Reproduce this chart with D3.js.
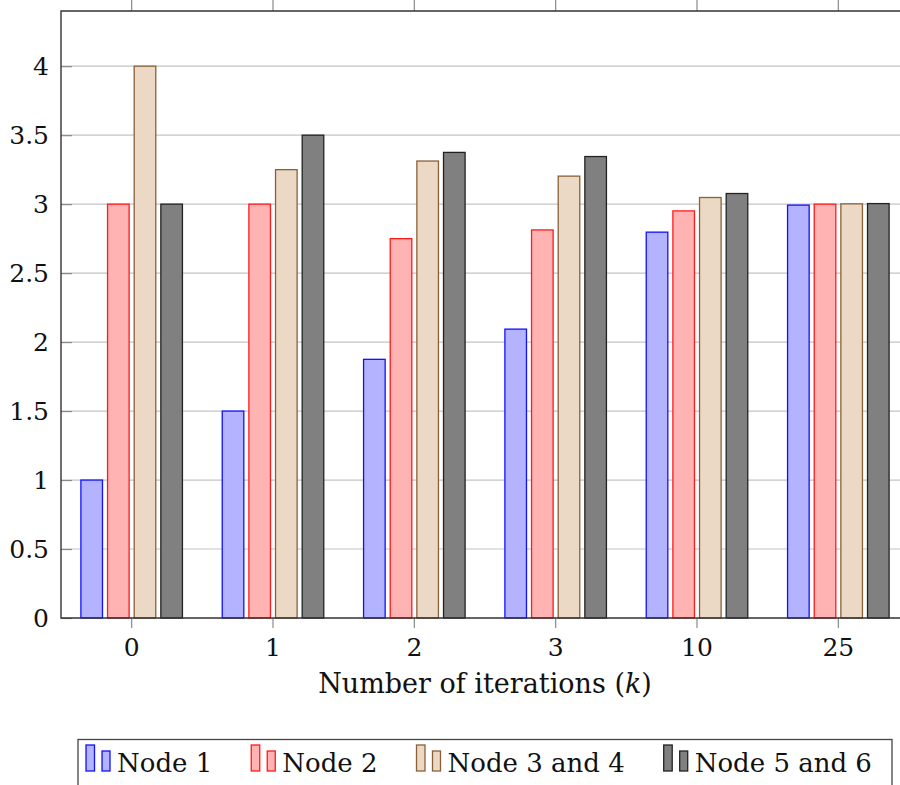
<!DOCTYPE html>
<html>
<head>
<meta charset="utf-8">
<script src="https://cdn.jsdelivr.net/npm/d3@7"></script>
<style>
  body { margin: 0; background: #fff; }
  svg { display: block; font-family: "DejaVu Serif", serif; }
</style>
</head>
<body>
<svg id="chart" width="900" height="785"></svg>
<script>
// data
const iterations = ["0", "1", "2", "3", "10", "25"];
const seriesNames = ["Node 1", "Node 2", "Node 3 and 4", "Node 5 and 6"];
const node1 = [1, 1.5, 1.875, 2.094, 2.797, 2.993];
const node2 = [3, 3, 2.75, 2.813, 2.951, 3];
const node34 = [4, 3.25, 3.3125, 3.203, 3.048, 3.002];
const node56 = [3, 3.5, 3.375, 3.345, 3.077, 3.004];
const yTicks = [0, 0.5, 1, 1.5, 2, 2.5, 3, 3.5, 4];

const values = [node1, node2, node34, node56];
const fills = ["#b3b3ff", "#ffb3b3", "#ebd9c5", "#808080"];
const strokes = ["#1010ff", "#ff1a1a", "#8a6039", "#222222"];

const plotLeft = 61, plotRight = 909, plotTop = 11, plotBottom = 618;

const svg = d3.select("#chart");

const x = d3.scaleBand()
  .domain(iterations)
  .range([plotLeft, plotRight]);

const xInner = d3.scaleBand()
  .domain(seriesNames)
  .range([-53.3, 53.3])
  .paddingInner(0.19)
  .paddingOuter(0.095);

const y = d3.scaleLinear()
  .domain([0, 4.4])
  .range([plotBottom, plotTop]);

// grid
svg.append("g")
  .selectAll("line")
  .data(yTicks.filter(d => d > 0))
  .enter()
  .append("line")
  .attr("x1", plotLeft)
  .attr("x2", plotRight)
  .attr("y1", d => y(d))
  .attr("y2", d => y(d))
  .attr("stroke", "#c4c4c4")
  .attr("stroke-width", 1.2);

// bars
const groups = svg.append("g")
  .selectAll("g")
  .data(seriesNames)
  .enter()
  .append("g");

groups.selectAll("rect")
  .data((name, i) => values[i].map((v, j) => ({ name, i, cat: iterations[j], v })))
  .enter()
  .append("rect")
  .attr("x", d => x(d.cat) + x.bandwidth() / 2 + xInner(d.name))
  .attr("y", d => y(d.v))
  .attr("width", xInner.bandwidth())
  .attr("height", d => y(0) - y(d.v))
  .attr("fill", d => fills[d.i])
  .attr("stroke", d => strokes[d.i])
  .attr("stroke-width", 1.3);

// y axis
const yAxis = d3.axisLeft(y)
  .tickValues(yTicks)
  .tickSize(-11)
  .tickPadding(12)
  .tickFormat(d => String(d));
const gy = svg.append("g")
  .attr("transform", `translate(${plotLeft},0)`)
  .call(yAxis);
gy.select(".domain").remove();
gy.selectAll(".tick line").attr("stroke", "#8a8a8a").attr("stroke-width", 1.2);
gy.selectAll(".tick text")
  .attr("font-size", 25)
  .attr("font-family", "DejaVu Serif, serif")
  .attr("fill", "#111");

// x axis (bottom and top ticks)
const xAxis = d3.axisBottom(x)
  .tickSize(10)
  .tickPadding(10);
const gx = svg.append("g")
  .attr("transform", `translate(0,${plotBottom})`)
  .call(xAxis);
gx.select(".domain").remove();
gx.selectAll(".tick line").attr("stroke", "#8a8a8a").attr("stroke-width", 1.2);
gx.selectAll(".tick text")
  .attr("font-size", 25)
  .attr("font-family", "DejaVu Serif, serif")
  .attr("fill", "#111");

const gxTop = svg.append("g")
  .attr("transform", `translate(0,${plotTop})`)
  .call(d3.axisTop(x).tickSize(11).tickFormat(""));
gxTop.select(".domain").remove();
gxTop.selectAll(".tick line").attr("stroke", "#8a8a8a").attr("stroke-width", 1.2);

// frame
svg.append("path")
  .attr("d", `M${plotRight},${plotTop}H${plotLeft}V${plotBottom}H${plotRight}`)
  .attr("fill", "none")
  .attr("stroke", "#333")
  .attr("stroke-width", 1.4);

// x label
const xlabel = svg.append("text")
  .attr("x", 485)
  .attr("y", 693)
  .attr("text-anchor", "middle")
  .attr("font-size", 27)
  .attr("fill", "#111");
xlabel.append("tspan").text("Number of iterations (");
xlabel.append("tspan").attr("font-style", "italic").text("k");
xlabel.append("tspan").text(")");

// legend
const legend = svg.append("g");
legend.append("rect")
  .attr("x", 78)
  .attr("y", 739.5)
  .attr("width", 814)
  .attr("height", 60)
  .attr("fill", "#fff")
  .attr("stroke", "#444")
  .attr("stroke-width", 1.3);

let lx = 86;
seriesNames.forEach((name, i) => {
  const item = legend.append("g").attr("transform", `translate(${lx},0)`);
  item.append("rect")
    .attr("x", 0).attr("y", 745)
    .attr("width", 8.5).attr("height", 26)
    .attr("fill", fills[i]).attr("stroke", strokes[i]).attr("stroke-width", 1.3);
  item.append("rect")
    .attr("x", 16).attr("y", 751)
    .attr("width", 8).attr("height", 20)
    .attr("fill", fills[i]).attr("stroke", strokes[i]).attr("stroke-width", 1.3);
  const t = item.append("text")
    .attr("x", 31)
    .attr("y", 772)
    .attr("font-size", 26)
    .attr("fill", "#111")
    .text(name);
  lx += 31 + t.node().getComputedTextLength() + 39;
});
</script>
</body>
</html>
